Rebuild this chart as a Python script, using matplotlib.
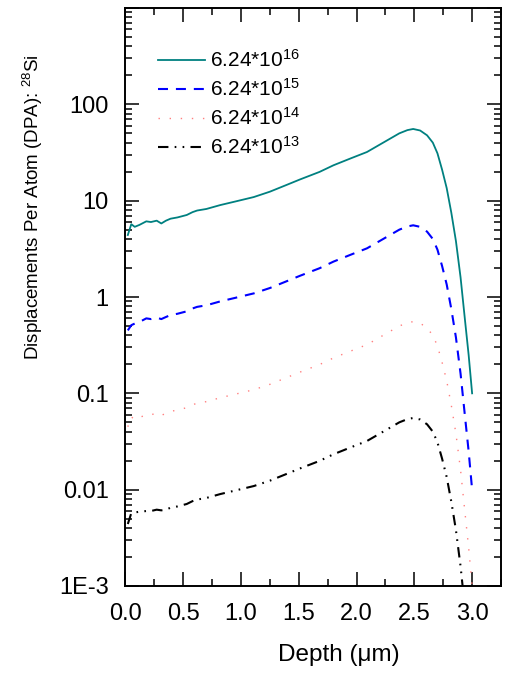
import matplotlib
matplotlib.use("Agg")
import matplotlib.pyplot as plt
from matplotlib.ticker import FixedLocator, LogLocator, NullFormatter, FixedFormatter, MultipleLocator, FormatStrFormatter

plt.rcParams['font.family'] = ['Liberation Sans', 'DejaVu Sans']
plt.rcParams['mathtext.fontset'] = 'custom'
plt.rcParams['mathtext.rm'] = 'Liberation Sans'
plt.rcParams['mathtext.it'] = 'Liberation Sans'
plt.rcParams['mathtext.default'] = 'regular'

depth = [0.02, 0.05, 0.08, 0.12, 0.18, 0.22, 0.27, 0.31, 0.35, 0.39, 0.45, 0.53, 0.58,
         0.62, 0.70, 0.82, 0.95, 1.11, 1.25, 1.39, 1.51, 1.68, 1.80, 1.95, 2.09, 2.23,
         2.37, 2.44, 2.49, 2.55, 2.61, 2.66, 2.70, 2.74, 2.78, 2.82, 2.86, 2.90, 2.94,
         2.97, 3.00]

dpa_16 = [4.4, 5.7, 5.35, 5.6, 6.1, 6.0, 6.2, 5.8, 6.2, 6.5, 6.7, 7.1, 7.6, 7.9, 8.2,
          9.0, 9.8, 10.9, 12.4, 14.5, 16.6, 19.9, 23.3, 27.5, 32.0, 40.0, 50.0, 54.0,
          55.5, 53.5, 47.7, 40.0, 31.0, 21.0, 13.5, 7.5, 3.8, 1.6, 0.55, 0.25, 0.10]

dpa_15 = [0.45, 0.51, 0.53, 0.55, 0.60, 0.59, 0.61, 0.59, 0.62, 0.65, 0.67, 0.71, 0.76,
          0.79, 0.82, 0.90, 0.98, 1.09, 1.24, 1.45, 1.66, 1.99, 2.33, 2.75, 3.20, 4.00,
          5.00, 5.40, 5.55, 5.35, 4.77, 4.00, 3.10, 2.10, 1.35, 0.75, 0.38, 0.16, 0.055,
          0.025, 0.010]

dpa_14 = [0.045, 0.057, 0.0535, 0.056, 0.060, 0.060, 0.062, 0.059, 0.062, 0.065, 0.067,
          0.071, 0.076, 0.079, 0.082, 0.090, 0.098, 0.109, 0.124, 0.145, 0.166, 0.199,
          0.233, 0.275, 0.320, 0.400, 0.500, 0.540, 0.555, 0.535, 0.477, 0.400, 0.310,
          0.210, 0.135, 0.075, 0.038, 0.016, 0.0055, 0.0025, 0.0010]

dpa_13 = [0.0044, 0.0057, 0.0058, 0.0059, 0.0060, 0.0060, 0.0062, 0.0061, 0.0062, 0.0065,
          0.0067, 0.0071, 0.0076, 0.0079, 0.0082, 0.0090, 0.0098, 0.0109, 0.0124, 0.0145,
          0.0166, 0.0199, 0.0233, 0.0275, 0.0320, 0.0400, 0.0500, 0.0540, 0.0555, 0.0535,
          0.0477, 0.0400, 0.0310, 0.0210, 0.0135, 0.0075, 0.0038, 0.0016, 0.00055,
          0.00025, 0.00010]

labels = ["6.24*10$^{16}$", "6.24*10$^{15}$", "6.24*10$^{14}$", "6.24*10$^{13}$"]
yticks = [1e-3, 1e-2, 1e-1, 1, 10, 100, 1000]
ytick_labels = ["1E-3", "0.01", "0.1", "1", "10", "100", ""]

fig = plt.figure(figsize=(5.06, 6.75), dpi=100)
ax = fig.add_axes([125.5 / 506, 1 - 586 / 675, 375.5 / 506, 578 / 675])

ax.plot(depth, dpa_16, color='#008080', lw=1.3, ls='-', label=labels[0])
ax.plot(depth, dpa_15, color='#0000FF', lw=1.5, ls=(0, (4.8, 3.8)), label=labels[1])
ax.plot(depth, dpa_14, color='#FF7F7F', lw=1.0, ls=(0, (1, 7)), label=labels[2])
ax.plot(depth, dpa_13, color='black', lw=1.5, ls=(0, (5, 3, 0.8, 3, 0.8, 3)), label=labels[3])

ax.set_yscale('log')
ax.set_xlim(0, 3.25)
ax.set_ylim(1e-3, 1e3)

ax.yaxis.set_major_locator(FixedLocator(yticks))
ax.yaxis.set_major_formatter(FixedFormatter(ytick_labels))
ax.yaxis.set_minor_locator(LogLocator(base=10, subs=range(2, 10), numticks=20))
ax.yaxis.set_minor_formatter(NullFormatter())
ax.xaxis.set_major_locator(MultipleLocator(0.5))
ax.xaxis.set_minor_locator(MultipleLocator(0.25))
ax.xaxis.set_major_formatter(FormatStrFormatter('%.1f'))

ax.tick_params(which='both', direction='in', top=True, right=True, width=1.1, colors='black')
ax.tick_params(which='major', length=10, labelsize=17, pad=12)
ax.tick_params(which='minor', length=5)
for s in ax.spines.values():
    s.set_linewidth(1.4)

ax.set_xlabel("Depth (μm)", fontsize=17.5)
ax.xaxis.set_label_coords((339 - 125.5) / 375.5, -(644 - 586) / 578)
ax.set_ylabel("Displacements Per Atom (DPA): $^{28}$Si", fontsize=13.5)
ax.yaxis.set_label_coords((45 - 125.5) / 375.5, (586 - 207) / 578)

ax.legend(loc='upper left', bbox_to_anchor=((158 - 125.5) / 375.5, (586 - 49) / 578),
          frameon=False, fontsize=15, handlelength=2.26, handletextpad=0.25,
          labelspacing=0.34, borderpad=0, borderaxespad=0)

fig.savefig("out.png", dpi=100)
